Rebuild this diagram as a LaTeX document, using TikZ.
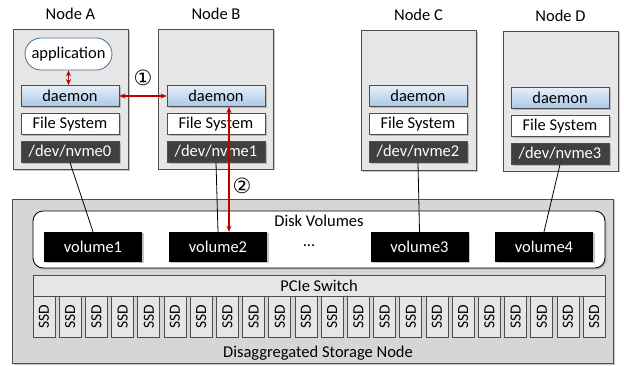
\documentclass[tikz,border=0pt]{standalone}
\usepackage{fontspec}
\setmainfont{Carlito}
\newfontfamily\symfont{DejaVu Sans}
\usepackage{tikz}
\usetikzlibrary{positioning,arrows.meta,shadows}
\definecolor{hostgray}{HTML}{E6E6E6}
\definecolor{storegray}{HTML}{D6D6D6}
\definecolor{edgegray}{HTML}{4D4D4D}
\definecolor{devgray}{HTML}{404040}
\definecolor{dmntop}{HTML}{E6EFF9}
\definecolor{dmnbot}{HTML}{A9C8E8}
\definecolor{appblue}{HTML}{41719C}
\definecolor{linkred}{HTML}{C00000}

\begin{document}
\begin{tikzpicture}[x=1pt, y=-1pt,
   font=\fontsize{16.5}{19}\selectfont,
   node distance=6pt,
   shade/.style={drop shadow={shadow xshift=1.5pt, shadow yshift=-1.5pt, opacity=.45}},
   host/.style={draw=edgegray, line width=0.8pt, fill=hostgray, minimum width=115pt,
                minimum height=140pt, shade},
   title/.style={inner sep=0pt},
   layer/.style={draw=edgegray, line width=0.8pt, minimum width=98pt,
                 minimum height=21pt, inner sep=0pt, shade},
   dmn/.style={layer, top color=dmntop, bottom color=dmnbot},
   fsys/.style={layer, fill=white},
   dev/.style={layer, fill=devgray, text=white},
   app/.style={draw=appblue, line width=0.8pt, fill=white, rounded corners=16pt,
               minimum width=87pt, minimum height=32pt, inner sep=0pt},
   store/.style={draw=edgegray, line width=0.8pt, fill=storegray, minimum width=601pt,
                 minimum height=164pt, shade},
   dvbox/.style={draw=black, line width=0.8pt, fill=white, rounded corners=10pt,
                 minimum width=572pt, minimum height=57pt, shade},
   vol/.style={fill=black, text=white, minimum width=98pt, minimum height=30pt,
               inner sep=0pt, shade},
   bar/.style={draw=edgegray, line width=0.8pt, fill=hostgray, minimum width=572pt,
               minimum height=21pt, inner sep=0pt},
   ssd/.style={draw=edgegray, line width=0.8pt, fill=hostgray, rotate=90,
               minimum width=41pt, minimum height=22pt, inner sep=0pt,
               font=\fontsize{15.5}{17}\selectfont},
   wire/.style={black, line width=0.8pt},
   link/.style={linkred, line width=1.2pt,
                {Stealth[length=6pt,width=5pt]}-{Stealth[length=6pt,width=5pt]}},
   num/.style={font=\symfont\fontsize{21}{21}\selectfont, inner sep=0pt}]
  \useasboundingbox (0,0) rectangle (624,366);

  % compute nodes
  \node[host] (hA) at (70.5,99.5) {};
  \node[host] (hB) at (216,99) {};
  \node[host] (hC) at (418.5,100.5) {};
  \node[host] (hD) at (560.5,101) {};
  \node[title, above=9pt of hA] (tA) {Node A};
  \node[title, above=9pt of hB] (tB) {Node B};
  \node[title, above=9pt of hC] (tC) {Node C};
  \node[title, above=9pt of hD] (tD) {Node D};

  \node[app] (app) at (68.5,54) {application};
  \node[dmn] (dA) at (70,96) {daemon};
  \node[fsys, below=of dA] (fA) {File System};
  \node[dev, below=of fA] (nA) {/dev/nvme0};

  \node[dmn] (dB) at (216,96) {daemon};
  \node[fsys, below=of dB] (fB) {File System};
  \node[dev, below=of fB] (nB) {/dev/nvme1};

  \node[dmn] (dC) at (418,96) {daemon};
  \node[fsys, below=of dC] (fC) {File System};
  \node[dev, below=of fC] (nC) {/dev/nvme2};

  \node[dmn] (dD) at (560,98) {daemon};
  \node[fsys, below=of dD] (fD) {File System};
  \node[dev, below=of fD] (nD) {/dev/nvme3};

  % storage node
  \node[store] (stor) at (312.5,281) {};
  \node[dvbox] (dv) at (319,239.5) {};
  \node[title, below=4pt of dv.north] (dvl) {Disk Volumes};
  \node[vol] (v1) at (93,247) {volume1};
  \node[vol] (v2) at (218,247) {volume2};
  \node (dots) at (309,246) {...};
  \node[vol] (v3) at (419.5,247) {volume3};
  \node[vol] (v4) at (544,247) {volume4};
  \node[bar] (pcie) at (319,285.5) {PCIe Switch};
  \foreach \i in {0,...,21}
    \node[ssd] (s\i) at (44+26.2*\i,316.5) {SSD};
  \node (dsn) at (318,353) {Disaggregated Storage Node};

  % connections
  \draw[wire] (nA.south) -- (v1.north);
  \draw[wire] (nB.south) -- (v2.north);
  \draw[wire] (nC.south) -- (v3.north);
  \draw[wire] (nD.south) -- (v4.north);
  \draw[link] (app.south) -- (app.south |- dA.north);
  \draw[link] (dA.east) -- (dB.west);
  \coordinate (up2) at ([xshift=13pt]dB.south);
  \draw[link] (up2) -- (up2 |- v2.north);
  \node[num] (c1) at (143,78) {①};
  \node[num] (c2) at (242,186) {②};
\end{tikzpicture}
\end{document}
